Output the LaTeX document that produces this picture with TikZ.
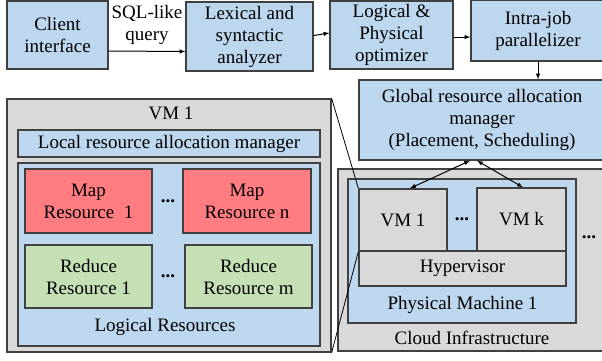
\documentclass[tikz,border=0pt]{standalone}
\usepackage{fontspec}
\setmainfont{Liberation Serif}
\usepackage{tikz}
\definecolor{boxblue}{HTML}{BDD7EE}
\definecolor{boxgray}{HTML}{D9D9D9}
\definecolor{boxred}{HTML}{FF7C80}
\definecolor{boxgreen}{HTML}{C5E0B4}
\definecolor{rim}{HTML}{404040}
\tikzstyle{blk}=[draw=rim,line width=1.3pt,align=center,inner sep=0pt]
\tikzstyle{bluebox}=[blk,fill=boxblue]
\tikzstyle{graybox}=[blk,fill=boxgray]
\tikzstyle{redbox}=[blk,fill=boxred]
\tikzstyle{greenbox}=[blk,fill=boxgreen]
\tikzstyle{flow}=[draw=black,line width=1pt,-latex]
\tikzstyle{zoomline}=[draw=black,line width=0.8pt]

\begin{document}
\begin{tikzpicture}[x=1pt,y=-1pt,font=\fontsize{19}{22}\selectfont]

  \useasboundingbox (0,0) rectangle (602,360);
  \clip (0,0) rectangle (602,360);

  % query pipeline
  \node[bluebox,minimum width=101,minimum height=68] (client) at (57.5,35) {Client\\interface};
  \node[bluebox,minimum width=127,minimum height=69] (lex) at (249.5,36.5) {Lexical and\\syntactic\\analyzer};
  \node[bluebox,minimum width=123,minimum height=68] (opt) at (391.5,35) {Logical \&\\Physical\\optimizer};
  \node[bluebox,minimum width=134,minimum height=61] (intra) at (538,30.5) {Intra-job\\parallelizer};
  \node[bluebox,minimum width=246,minimum height=80] (global) at (482,120) {Global resource allocation\\manager\\(Placement, Scheduling)};

  \draw[flow] ([yshift=-16pt]client.east) -- node[above=3pt,align=center] (sql) {SQL-like\\query} ([yshift=-15pt]lex.west);
  \draw[flow] ([yshift=1pt]lex.east) -- ([yshift=2pt]opt.west);
  \draw[flow] ([yshift=-2pt]opt.east) -- ([yshift=-2pt]opt.east -| intra.west);
  \draw[flow] (intra.south) -- (intra.south |- global.north);

  % VM 1 detail
  \node[graybox,minimum width=324,minimum height=253] (vm) at (169,225.5) {};
  \node (vmtitle) at (171,113) {VM 1};
  \node[bluebox,minimum width=302,minimum height=27] (lram) at (169,143.5) {Local resource allocation manager};
  \node[bluebox,minimum width=302,minimum height=183] (logres) at (169,254.5) {};
  \node (logtitle) at (165,327) {Logical Resources};

  \node[redbox,minimum width=127,minimum height=64] (map1) at (88.5,201) {Map\\Resource~ 1};
  \node[redbox,minimum width=128,minimum height=64] (mapn) at (247,201) {Map\\Resource n};
  \node[greenbox,minimum width=127,minimum height=63] (red1) at (88.5,276.5) {Reduce\\Resource 1};
  \node[greenbox,minimum width=127,minimum height=63] (redm) at (248.5,276.5) {Reduce\\Resource m};
  \node (mapdots) at (168,201) {\textbf{...}};
  \node (reddots) at (168,276) {\textbf{...}};

  % cloud side
  \node[graybox,minimum width=268,minimum height=182] (cloud) at (472,260) {};
  \node (cloudtitle) at (472,338) {Cloud Infrastructure};
  \node[bluebox,minimum width=228,minimum height=144] (pm) at (462,251) {};
  \node (pmtitle) at (462.5,305) {Physical Machine 1};
  \node[graybox,minimum width=88,minimum height=62] (vma) at (403,220) {VM 1};
  \node[graybox,minimum width=89,minimum height=63] (vmk) at (521.5,219.5) {VM k};
  \node[graybox,minimum width=207,minimum height=35] (hyp) at (462.5,268.5) {Hypervisor};
  \node (vmdots) at (462,219) {\textbf{...}};
  \node (pmdots) at (589,237) {\textbf{...}};

  \draw[flow,latex-latex] ([xshift=-12pt]global.south) -- ([xshift=7pt]vma.north);
  \draw[flow,latex-latex] ([xshift=-5pt]global.south) -- ([xshift=1.5pt]vmk.north);

  \draw[zoomline] (vm.north east) -- (vma.north west);
  \draw[zoomline] (vm.south east) -- (vma.south west);

\end{tikzpicture}
\end{document}
